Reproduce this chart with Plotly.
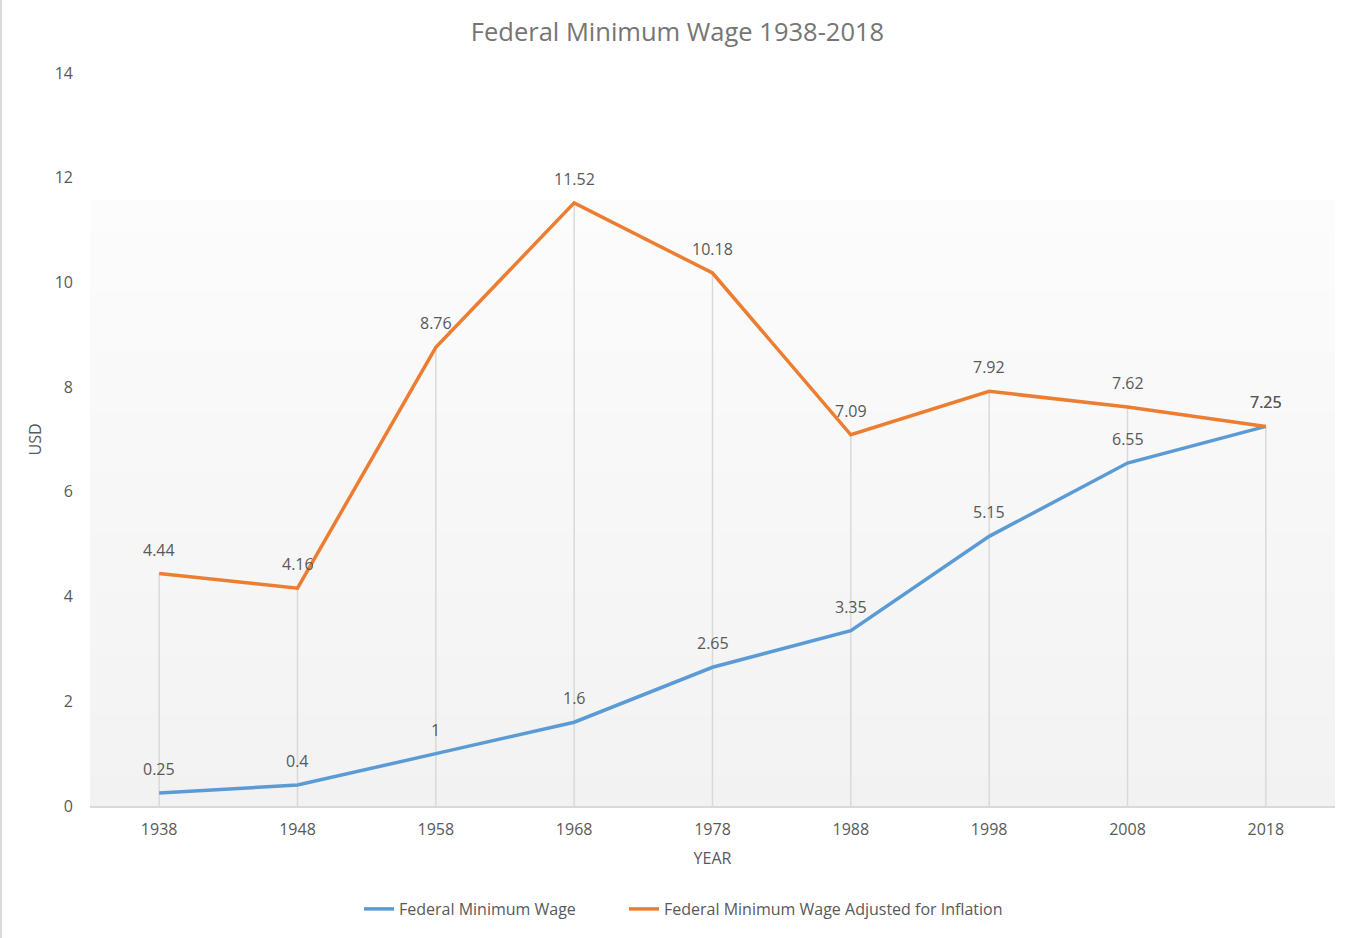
import plotly.graph_objects as go

years = ["1938", "1948", "1958", "1968", "1978", "1988", "1998", "2008", "2018"]
min_wage = [0.25, 0.4, 1, 1.6, 2.65, 3.35, 5.15, 6.55, 7.25]
adjusted = [4.44, 4.16, 8.76, 11.52, 10.18, 7.09, 7.92, 7.62, 7.25]
y_ticks = [0, 2, 4, 6, 8, 10, 12, 14]

BLUE = "#5B9BD5"
ORANGE = "#ED7D31"
TXT = "#595959"
FONT = "Open Sans"
FS = 16

fig = go.Figure()

# drop lines from the orange series to the axis
dx, dy = [], []
for c, v in zip(years, adjusted):
    dx += [c, c, None]
    dy += [v, 0, None]
fig.add_trace(go.Scatter(x=dx, y=dy, mode="lines", line=dict(color="#D9D9D9", width=1.5),
                         showlegend=False, hoverinfo="skip"))

fig.add_trace(go.Scatter(x=years, y=min_wage, mode="lines", name="Federal Minimum Wage",
                         line=dict(color=BLUE, width=3.5), legend="legend"))
fig.add_trace(go.Scatter(x=years, y=adjusted, mode="lines",
                         name="Federal Minimum Wage Adjusted for Inflation",
                         line=dict(color=ORANGE, width=3.5), legend="legend2"))

annotations = []
for series in (min_wage, adjusted):
    for i, v in enumerate(series):
        annotations.append(dict(x=i, y=v, xref="x", yref="y", text=f"{v:g}", showarrow=False,
                                yshift=24, font=dict(family=FONT, size=FS, color=TXT)))

# gradient background
shapes = []
n = 60
top = (806 - 200) / (806 - 73)
for i in range(n):
    t = i / (n - 1)
    g = round(0xF2 + (0xFC - 0xF2) * t)
    col = f"rgb({g},{g},{g})"
    shapes.append(dict(type="rect", xref="paper", yref="paper", x0=0, x1=1,
                       y0=top * i / n, y1=top * (i + 1) / n + 0.001,
                       fillcolor=col, line=dict(width=0), layer="below"))
# left border of chart area
shapes.append(dict(type="line", xref="paper", yref="paper", x0=-89/1245, x1=-89/1245,
                   y0=-132/733, y1=1 + 73/733, line=dict(color="#D9D9D9", width=2)))

leg_common = dict(orientation="h", xref="container", yref="container", yanchor="middle",
                  y=1 - 909/938, xanchor="left", font=dict(family=FONT, size=FS, color=TXT),
                  itemwidth=30, bgcolor="rgba(0,0,0,0)", borderwidth=0)

fig.update_layout(
    width=1355, height=938,
    margin=dict(l=90, r=20, t=73, b=132),
    paper_bgcolor="white", plot_bgcolor="rgba(0,0,0,0)",
    title=dict(text="Federal Minimum Wage 1938-2018", x=0.5, xref="container", xanchor="center",
               y=1 - 32/938, yanchor="middle",
               font=dict(family=FONT, size=25.5, color="#757575")),
    font=dict(family=FONT, size=FS, color=TXT),
    showlegend=True,
    legend=dict(x=(360 - 1) / 1355, **leg_common),
    legend2=dict(x=(625 - 1) / 1355, **leg_common),
    annotations=annotations,
    shapes=shapes,
    xaxis=dict(type="category", categoryarray=years, range=[-0.5, 8.5],
               showgrid=False, showline=True, linecolor="#D9D9D9", linewidth=1.5,
               ticks="", ticklabelstandoff=8, zeroline=False,
               title=dict(text="YEAR", font=dict(family=FONT, size=FS, color=TXT), standoff=14)),
    yaxis=dict(range=[0, 14], tickvals=y_ticks, showgrid=False, showline=False, zeroline=False,
               ticks="", ticklabelstandoff=16,
               title=dict(text="USD", font=dict(family=FONT, size=FS, color=TXT), standoff=9)),
)

fig.write_html("out.html", config={"displayModeBar": False},
               post_script="document.body.style.margin='0';")
